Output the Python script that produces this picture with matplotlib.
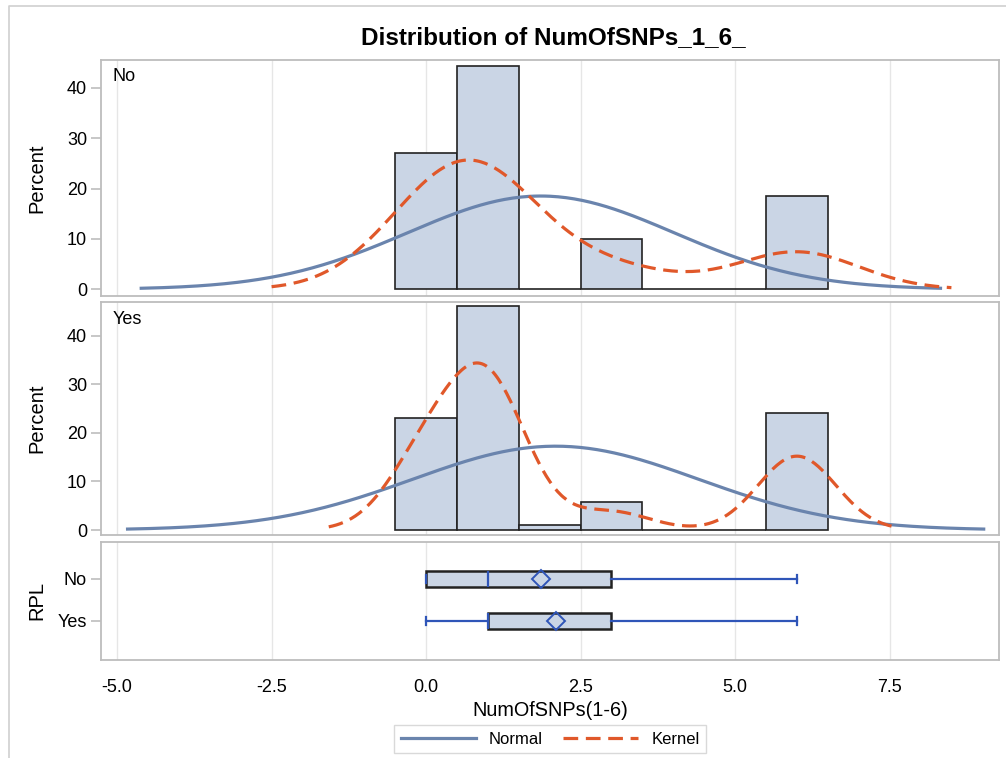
import numpy as np
import matplotlib
matplotlib.use("Agg")
import matplotlib.pyplot as plt
from matplotlib.lines import Line2D

plt.rcParams["font.family"] = ["Liberation Sans", "DejaVu Sans"]

# ---- data ----
snp_values = np.array([0, 1, 2, 3, 4, 5, 6])
counts_no = np.array([19, 31, 0, 7, 0, 0, 13])
counts_yes = np.array([24, 48, 1, 6, 0, 0, 25])
groups = ["No", "Yes"]
kernel_bw = {"No": 1.0, "Yes": 0.63}
x_ticks = [-5.0, -2.5, 0.0, 2.5, 5.0, 7.5]
y_ticks = [0, 10, 20, 30, 40]

C_BAR = "#CAD5E5"
C_EDGE = "#222222"
C_NORM = "#6A84AD"
C_KERN = "#E0582A"
C_BOX = "#2F55B8"
C_FRAME = "#BDBDBD"
C_GRID = "#E6E6E6"

W, H = 1006, 758
XLIM = (-5.26, 9.27)
KERN_LS = (0, (4.6, 2.4))
YLAB_X = -0.061


def px_axes(fig, x0, y0, x1, y1):
    return fig.add_axes([x0 / W, 1 - y1 / H, (x1 - x0) / W, (y1 - y0) / H])


def style(ax):
    for s in ax.spines.values():
        s.set_color(C_FRAME)
        s.set_linewidth(1.3)
    ax.set_xlim(*XLIM)
    ax.set_xticks(x_ticks)
    ax.grid(axis="x", color=C_GRID, lw=1.0)
    ax.set_axisbelow(True)
    ax.tick_params(axis="y", color=C_FRAME, length=7, width=1.2, labelsize=13, pad=3)
    ax.tick_params(axis="x", length=0, labelsize=13)


def expand(counts):
    return np.repeat(snp_values, counts).astype(float)


fig = plt.figure(figsize=(W / 100, H / 100), dpi=100)
fig.add_artist(Line2D([9 / W, 9 / W, 1.0], [0, 1 - 6 / H, 1 - 6 / H],
                      color="#D0D0D0", lw=1.2))

panels = [
    ("No", counts_no, (101, 60, 999, 296), (-1.33, 45.5), 0.928),
    ("Yes", counts_yes, (101, 302, 999, 535), (-1.03, 47.0), 0.923),
]

for name, counts, box, ylim, ty in panels:
    ax = px_axes(fig, *box)
    style(ax)
    data = expand(counts)
    n = len(data)
    pct = counts / n * 100
    ax.bar(snp_values, pct, width=1.0, color=C_BAR, edgecolor=C_EDGE, lw=1.2, zorder=2)

    # normal fit (+-3 sd)
    mu, sd = data.mean(), data.std(ddof=1)
    xs = np.linspace(mu - 3 * sd, mu + 3 * sd, 300)
    ax.plot(xs, 100 / (sd * np.sqrt(2 * np.pi)) * np.exp(-0.5 * ((xs - mu) / sd) ** 2),
            color=C_NORM, lw=2.3, zorder=3)

    # gaussian kernel estimate
    bw = kernel_bw[name]
    xk = np.linspace(data.min() - 2.5 * bw, data.max() + 2.5 * bw, 300)
    dens = np.exp(-0.5 * ((xk[:, None] - data[None, :]) / bw) ** 2).sum(axis=1)
    dens = dens / (n * bw * np.sqrt(2 * np.pi)) * 100
    ax.plot(xk, dens, color=C_KERN, lw=2.3, ls=KERN_LS, zorder=4)

    ax.set_ylim(*ylim)
    ax.set_yticks(y_ticks)
    ax.set_xticklabels([])
    ax.set_ylabel("Percent", fontsize=14.5)
    ax.yaxis.set_label_coords(YLAB_X, 0.5)
    ax.text(0.013, ty, name, transform=ax.transAxes, fontsize=13, va="center")

# box plot panel
axb = px_axes(fig, 101, 542, 999, 660)
style(axb)
box_data = [expand(counts_no), expand(counts_yes)]
axb.boxplot(box_data, positions=[1, 2], orientation="horizontal", widths=0.4,
            patch_artist=True, showmeans=True, showfliers=False, whis=1.5,
            capwidths=0.2,
            boxprops=dict(facecolor=C_BAR, edgecolor=C_EDGE, lw=1.8),
            medianprops=dict(color=C_BOX, lw=1.6),
            whiskerprops=dict(color=C_BOX, lw=1.6),
            capprops=dict(color=C_BOX, lw=1.6),
            meanprops=dict(marker="D", markersize=9.5, markerfacecolor="none",
                           markeredgecolor=C_BOX, markeredgewidth=1.4))
axb.set_ylim(2.93, 0.12)
axb.set_yticks([1, 2])
axb.set_yticklabels(groups)
axb.set_xticks(x_ticks)
axb.set_xticklabels([f"{t:.1f}" for t in x_ticks])
axb.tick_params(axis="x", pad=14)
axb.set_ylabel("RPL", fontsize=14.5)
axb.yaxis.set_label_coords(YLAB_X, 0.5)
axb.set_xlabel("NumOfSNPs(1-6)", fontsize=14.3, labelpad=3)

fig.text(553 / W, 1 - 38 / H, "Distribution of NumOfSNPs_1_6_", ha="center", va="center",
         fontsize=17.5, fontweight="bold")

handles = [Line2D([], [], color=C_NORM, lw=2.3),
           Line2D([], [], color=C_KERN, lw=2.3, ls=KERN_LS)]
fig.legend(handles, ["Normal", "Kernel"], loc="center", bbox_to_anchor=(550 / W, 1 - 739 / H),
           ncol=2, frameon=True, fancybox=False, edgecolor="#D0D0D0", fontsize=12,
           handlelength=4.5, columnspacing=1.2, borderpad=0.4)

fig.savefig("out.png", dpi=100)
